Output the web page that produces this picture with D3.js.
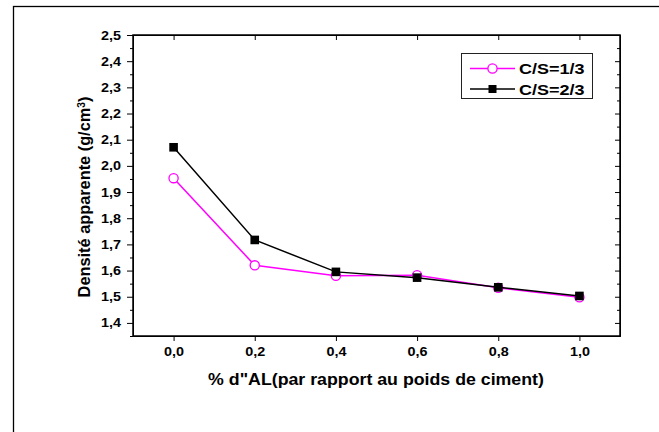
<!DOCTYPE html>
<html>
<head>
<meta charset="utf-8">
<title></title>
<style>
  body { margin: 0; background: #fff; }
  text { font-family: "Liberation Sans", Arial, sans-serif; font-weight: bold; fill: #000; }
  .axis path, .axis line { stroke: #000; }
</style>
</head>
<body>
<svg width="659" height="432"></svg>
<script src="https://d3js.org/d3.v7.min.js"></script>
<script>
// data
var xVals = [0, 0.2, 0.4, 0.6, 0.8, 1.0];
var cs13 = [1.953, 1.620, 1.580, 1.582, 1.534, 1.498];
var cs23 = [2.071, 1.717, 1.595, 1.573, 1.536, 1.503];
var xTicks = [0, 0.2, 0.4, 0.6, 0.8, 1.0];
var yTicks = [1.4, 1.5, 1.6, 1.7, 1.8, 1.9, 2.0, 2.1, 2.2, 2.3, 2.4, 2.5];
var yMinor = [1.35, 1.45, 1.55, 1.65, 1.75, 1.85, 1.95, 2.05, 2.15, 2.25, 2.35, 2.45];
var seriesNames = ["C/S=1/3", "C/S=2/3"];

var svg = d3.select("svg");
var pL = 133, pR = 620, pT = 35, pB = 336;
var stretch = 1.2;

// outer frame (only top and left edges are in view)
svg.append("rect")
    .attr("x", 13.5).attr("y", 6.5)
    .attr("width", 700).attr("height", 500)
    .attr("fill", "none").attr("stroke", "#000").attr("stroke-width", 1.3);

var x = d3.scaleLinear().domain([-0.1, 1.1]).range([pL, pR]);
var y = d3.scaleLinear().domain([1.35, 2.5]).range([pB, pT]);
var fmt = function(d) { return d3.format(".1f")(d).replace(".", ","); };

// bottom axis
var gx = svg.append("g").attr("class", "axis")
    .attr("transform", "translate(0," + pB + ")")
    .call(d3.axisBottom(x).tickValues(xTicks).tickSize(5).tickSizeOuter(0).tickFormat(fmt));
gx.selectAll("text").attr("y", 20).attr("dy", null)
    .style("font-size", "12px")
    .attr("transform", "scale(" + stretch + ",1)");

// left axis, major + minor
svg.append("g").attr("class", "axis")
    .attr("transform", "translate(" + pL + ",0)")
    .call(d3.axisLeft(y).tickValues(yMinor).tickSize(3).tickSizeOuter(0).tickFormat(""));
var gy = svg.append("g").attr("class", "axis")
    .attr("transform", "translate(" + pL + ",0)")
    .call(d3.axisLeft(y).tickValues(yTicks).tickSize(6).tickSizeOuter(0).tickFormat(fmt));
gy.selectAll("text").attr("x", -12 / stretch).attr("dy", "4")
    .style("font-size", "12px")
    .attr("transform", "scale(" + stretch + ",1)");

// top axis, ticks inward
svg.append("g").attr("class", "axis")
    .attr("transform", "translate(0," + pT + ")")
    .call(d3.axisTop(x).tickValues(xTicks).tickSize(-5).tickSizeOuter(0).tickFormat(""));

// right axis, ticks inward
svg.append("g").attr("class", "axis")
    .attr("transform", "translate(" + pR + ",0)")
    .call(d3.axisRight(y).tickValues(yMinor).tickSize(-3).tickSizeOuter(0).tickFormat(""));
svg.append("g").attr("class", "axis")
    .attr("transform", "translate(" + pR + ",0)")
    .call(d3.axisRight(y).tickValues(yTicks).tickSize(-5).tickSizeOuter(0).tickFormat(""));

// plot frame
svg.append("rect")
    .attr("x", pL).attr("y", pT)
    .attr("width", pR - pL).attr("height", pB - pT)
    .attr("fill", "none").attr("stroke", "#000").attr("stroke-width", 1.5);

// series
var line = d3.line()
    .x(function(d, i) { return x(xVals[i]); })
    .y(function(d) { return y(d); });

svg.append("path").datum(cs13)
    .attr("d", line).attr("fill", "none")
    .attr("stroke", "#ff00ff").attr("stroke-width", 1.5);
svg.selectAll(".c13").data(cs13).enter().append("circle")
    .attr("cx", function(d, i) { return x(xVals[i]); })
    .attr("cy", function(d) { return y(d); })
    .attr("r", 4.6)
    .attr("fill", "#fff").attr("stroke", "#ff00ff").attr("stroke-width", 1.3);

svg.append("path").datum(cs23)
    .attr("d", line).attr("fill", "none")
    .attr("stroke", "#000").attr("stroke-width", 1.5);
svg.selectAll(".c23").data(cs23).enter().append("rect")
    .attr("x", function(d, i) { return x(xVals[i]) - 4.3; })
    .attr("y", function(d) { return y(d) - 4.3; })
    .attr("width", 8.6).attr("height", 8.6)
    .attr("fill", "#000");

// legend
var lg = svg.append("g");
lg.append("rect")
    .attr("x", 461.5).attr("y", 53.5).attr("width", 131).attr("height", 45)
    .attr("fill", "#fff").attr("stroke", "#222").attr("stroke-width", 1);
var rows = [68.5, 89];
seriesNames.forEach(function(name, i) {
    var col = i === 0 ? "#ff00ff" : "#000";
    lg.append("line")
        .attr("x1", 470).attr("x2", 515).attr("y1", rows[i]).attr("y2", rows[i])
        .attr("stroke", col).attr("stroke-width", 1.5);
    if (i === 0) {
        lg.append("circle").attr("cx", 492.5).attr("cy", rows[i]).attr("r", 4.6)
            .attr("fill", "#fff").attr("stroke", col).attr("stroke-width", 1.3);
    } else {
        lg.append("rect").attr("x", 488.5).attr("y", rows[i] - 4).attr("width", 8).attr("height", 8)
            .attr("fill", col);
    }
    lg.append("text")
        .attr("transform", "translate(519," + (rows[i] + 5.5) + ") scale(1.2,1)")
        .style("font-size", "15px")
        .text(name);
});

// axis titles
var xt = svg.append("text")
    .attr("text-anchor", "middle")
    .style("font-size", "16px")
    .text("% d\"AL(par rapport au poids de ciment)");
var xw = xt.node().getComputedTextLength();
xt.attr("transform", "translate(376,385) scale(" + (336 / xw) + ",1)");

var yt = svg.append("text")
    .attr("text-anchor", "middle")
    .style("font-size", "16px");
yt.append("tspan").text("Densité apparente (g/cm");
yt.append("tspan").attr("baseline-shift", "super").style("font-size", "10px").text("3");
yt.append("tspan").text(")");
var yw = yt.node().getBBox().width;
yt.attr("transform", "translate(90,197) rotate(-90) scale(" + (201 / yw) + ",1)");
</script>
</body>
</html>
